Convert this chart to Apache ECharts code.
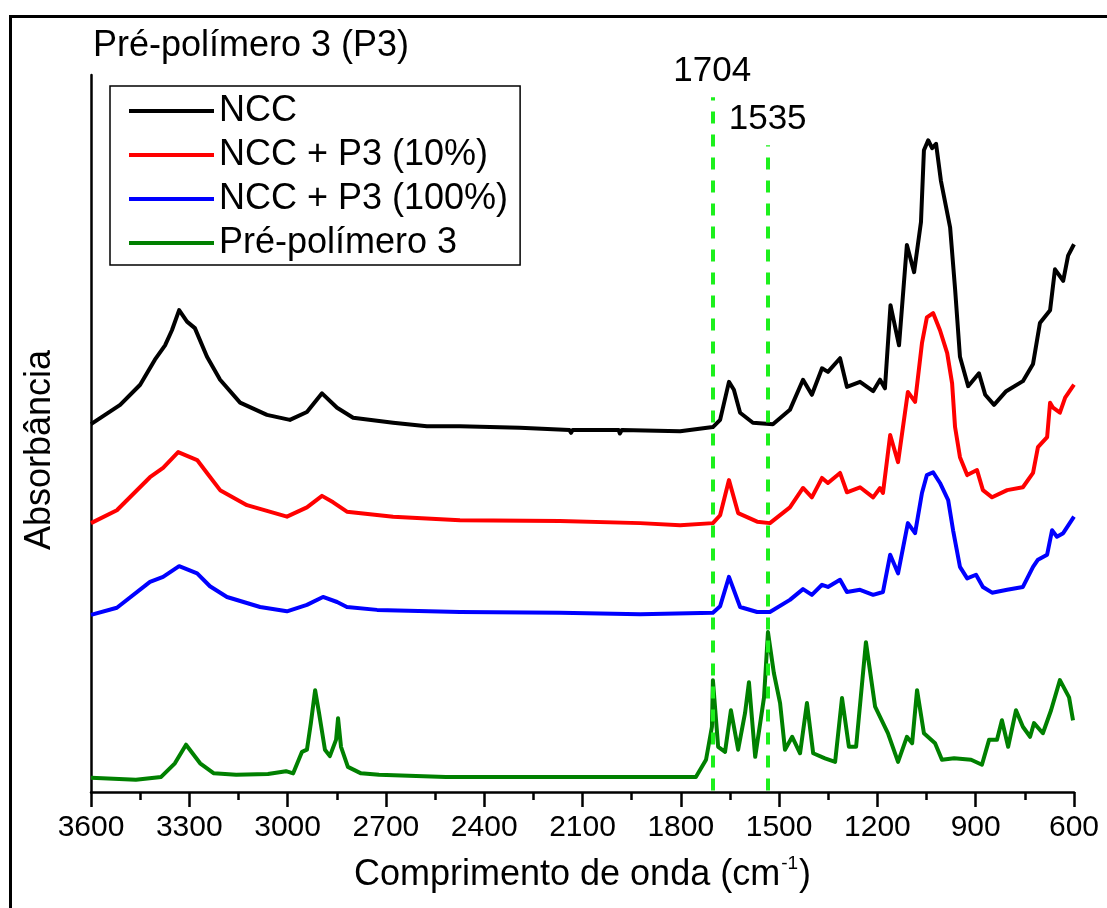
<!DOCTYPE html>
<html>
<head>
<meta charset="utf-8">
<script src="https://cdn.jsdelivr.net/npm/echarts@6/dist/echarts.min.js"></script>
<style>html,body{margin:0;padding:0;background:#fff;}#c{width:1107px;height:908px;}</style>
</head>
<body>
<div id="c"></div>
<script>
// Wavenumber (cm-1) and absorbance (arbitrary units, offset spectra)
const xTicks = [3600, 3300, 3000, 2700, 2400, 2100, 1800, 1500, 1200, 900, 600];
const seriesNames = ['NCC', 'NCC + P3 (10%)', 'NCC + P3 (100%)', 'Pré-polímero 3'];
const markedBands = [1704, 1535];

const ncc = [
 [3600,51.3],[3511,54.0],[3450,56.8],[3405,60.3],[3374,62.3],[3353,64.4],[3331,67.2],[3307,65.6],[3283,64.7],
 [3246,60.7],[3206,57.5],[3145,54.3],[3063,52.6],[2993,51.9],[2941,53.0],[2895,55.6],[2849,53.6],[2800,52.2],
 [2678,51.5],[2575,51.0],[2474,51.0],[2291,50.8],[2140,50.5],[2135,50.1],[2130,50.5],[1990,50.5],[1986,50.0],
 [1980,50.5],[1802,50.3],[1702,50.9],[1680,51.9],[1653,57.2],[1638,56.1],[1619,52.9],[1580,51.5],[1519,51.3],
 [1467,53.3],[1427,57.5],[1400,55.4],[1369,59.1],[1351,58.6],[1314,60.5],[1293,56.5],[1253,57.2],[1213,55.9],
 [1192,57.5],[1177,56.3],[1160,67.9],[1134,62.3],[1110,76.3],[1088,72.5],[1067,79.5],[1058,89.5],[1045,90.9],
 [1033,89.8],[1021,90.4],[1006,85.2],[978,78.7],[963,70.2],[948,60.7],[923,56.6],[890,58.4],[871,55.4],
 [844,54.0],[807,55.9],[756,57.3],[725,59.7],[704,65.4],[673,67.2],[658,72.9],[633,71.3],[618,74.8],[600,76.4]
];
const ncc10 = [
 [3600,37.5],[3521,39.3],[3420,43.9],[3380,45.2],[3334,47.4],[3276,46.3],[3246,44.5],[3206,42.1],[3124,40.0],
 [3002,38.4],[2941,39.7],[2895,41.3],[2861,40.4],[2819,39.1],[2678,38.4],[2474,37.9],[2169,37.8],[1924,37.5],
 [1802,37.2],[1702,37.5],[1680,38.6],[1653,43.5],[1625,38.9],[1567,37.7],[1528,37.5],[1467,39.7],[1427,42.4],
 [1400,41.1],[1369,43.8],[1351,43.1],[1314,44.5],[1293,41.8],[1253,42.5],[1213,41.1],[1192,42.4],[1183,41.7],
 [1161,49.8],[1137,46.0],[1107,55.8],[1085,54.4],[1064,62.6],[1049,66.2],[1030,66.8],[1009,64.4],[987,61.2],
 [972,57.0],[963,50.9],[948,46.7],[926,44.2],[896,44.9],[878,42.1],[850,41.1],[804,42.1],[756,42.5],[725,44.5],
 [710,48.1],[682,49.5],[673,54.3],[664,53.6],[643,52.9],[627,55.0],[600,56.8]
];
const ncc100 = [
 [3600,24.7],[3521,25.7],[3420,29.3],[3380,30.0],[3331,31.5],[3276,30.5],[3237,28.7],[3185,27.2],[3084,25.8],
 [3002,25.2],[2941,26.1],[2892,27.2],[2849,26.5],[2819,25.8],[2727,25.4],[2474,25.1],[2169,25.0],[1924,24.8],
 [1702,25.0],[1680,25.9],[1653,30.0],[1619,25.8],[1567,25.1],[1528,25.1],[1467,26.8],[1427,28.3],[1400,27.5],
 [1369,28.9],[1351,28.6],[1314,29.6],[1293,27.9],[1253,28.2],[1213,27.5],[1183,27.9],[1161,33.1],[1137,30.5],
 [1107,37.5],[1085,36.1],[1064,41.7],[1049,44.2],[1030,44.6],[1009,43.1],[984,40.7],[969,36.5],[948,31.4],
 [926,29.8],[899,30.3],[878,28.6],[850,27.8],[804,28.2],[756,28.6],[725,31.4],[710,32.4],[682,33.1],[667,36.5],
 [652,35.6],[633,36.1],[600,38.4]
];
const p3 = [
 [3600,2.0],[3463,1.7],[3386,2.1],[3344,4.0],[3310,6.6],[3267,4.0],[3225,2.6],[3157,2.4],[3060,2.5],[3005,2.9],
 [2983,2.6],[2956,5.6],[2941,5.9],[2929,9.6],[2916,14.2],[2904,11.0],[2886,5.9],[2871,5.0],[2852,7.3],[2846,10.3],
 [2837,6.3],[2816,3.5],[2776,2.6],[2721,2.4],[2517,2.1],[2242,2.1],[1986,2.1],[1754,2.1],[1723,4.5],[1705,9.1],
 [1702,15.6],[1686,6.3],[1665,5.6],[1647,11.4],[1625,5.9],[1604,11.0],[1592,15.3],[1573,4.9],[1546,13.2],
 [1534,22.3],[1516,16.6],[1497,12.4],[1482,5.9],[1460,7.7],[1436,5.4],[1415,12.4],[1396,5.4],[1360,4.7],
 [1329,4.2],[1308,13.1],[1287,6.3],[1265,6.3],[1235,20.9],[1207,11.9],[1168,8.2],[1137,4.2],[1110,7.7],
 [1094,6.8],[1079,14.2],[1058,8.2],[1024,6.8],[1003,4.5],[966,4.7],[914,4.5],[881,3.8],[859,7.3],[835,7.3],
 [820,10.0],[801,6.3],[777,11.4],[756,9.1],[734,7.7],[722,9.6],[695,8.2],[670,11.4],[643,15.6],[615,13.2],[603,10.0]
];
const markTops = [96.9, 90.2];

const FONT = '"Liberation Sans", Arial, sans-serif';
const colors = ['#000000', '#ff0000', '#0000ff', '#008000'];
const datasets = [ncc, ncc10, ncc100, p3];

const chart = echarts.init(document.getElementById('c'), null, {renderer: 'canvas'});
const series = datasets.map((d, i) => ({
  name: seriesNames[i], type: 'line', data: d, symbol: 'none', smooth: false,
  lineStyle: {color: colors[i], width: 4, join: 'round'}, itemStyle: {color: colors[i]}, z: 2 + i
}));
series[3].markLine = {
  silent: true, symbol: 'none', z: 10,
  lineStyle: {color: '#1cf01c', type: [12, 11], width: 4},
  label: {show: true, position: 'end', formatter: p => p.name, color: '#000',
          fontSize: 35, fontFamily: FONT, distance: 8},
  data: markedBands.map((b, k) => [
    {coord: [b, 0.2], name: String(b)},
    {coord: [b, markTops[k]], name: String(b)}
  ])
};

chart.setOption({
  animation: false,
  backgroundColor: '#fff',
  title: {text: 'Pré-polímero 3 (P3)', left: 88, top: 23,
    textStyle: {fontSize: 36, fontWeight: 'normal', fontFamily: FONT, color: '#000'}},
  legend: {
    orient: 'vertical', left: 110, top: 86,
    data: seriesNames, icon: 'rect', itemWidth: 85, itemHeight: 4, itemGap: 4,
    borderColor: '#000', borderWidth: 1.5, padding: [5, 12, 2, 19],
    textStyle: {fontSize: 36, fontFamily: FONT, color: '#000', lineHeight: 40}
  },
  grid: {left: 91, right: 33, top: 75, bottom: 116},
  xAxis: {
    type: 'value', inverse: true, min: 600, max: 3600, interval: 300,
    name: '{a|Comprimento de onda (cm}{s|-1}{a|)}', nameLocation: 'middle', nameGap: 62,
    nameTextStyle: {rich: {
      a: {fontSize: 36, fontFamily: FONT, color: '#000', lineHeight: 42},
      s: {fontSize: 19, fontFamily: FONT, color: '#000', verticalAlign: 'top', lineHeight: 42, padding: [0, 1, 0, 1]}
    }},
    axisLine: {show: true, onZero: false, lineStyle: {color: '#000', width: 2.5}},
    axisTick: {show: true, inside: false, length: 15, lineStyle: {color: '#000', width: 2.5}},
    minorTick: {show: true, splitNumber: 2, length: 8, lineStyle: {color: '#000', width: 2.5}},
    axisLabel: {fontSize: 30, fontFamily: FONT, color: '#000', margin: 21,
      formatter: v => xTicks.includes(v) ? String(v) : ''},
    splitLine: {show: false}
  },
  yAxis: {
    type: 'value', min: 0, max: 100,
    axisLine: {show: true, lineStyle: {color: '#000', width: 2.5}},
    axisTick: {show: false}, axisLabel: {show: false}, splitLine: {show: false}
  },
  graphic: [{
    type: 'rect', left: 8, top: 14, shape: {x: 0, y: 0, width: 1130, height: 930},
    style: {fill: 'none', stroke: '#000', lineWidth: 3}, silent: true, z: 100
  }, {
    type: 'text', x: 40, y: 450, rotation: Math.PI / 2, silent: true,
    style: {text: 'Absorbância', fontSize: 36, fontFamily: FONT, fill: '#000',
            align: 'center', verticalAlign: 'middle'}
  }],
  series: series
});
</script>
</body>
</html>
